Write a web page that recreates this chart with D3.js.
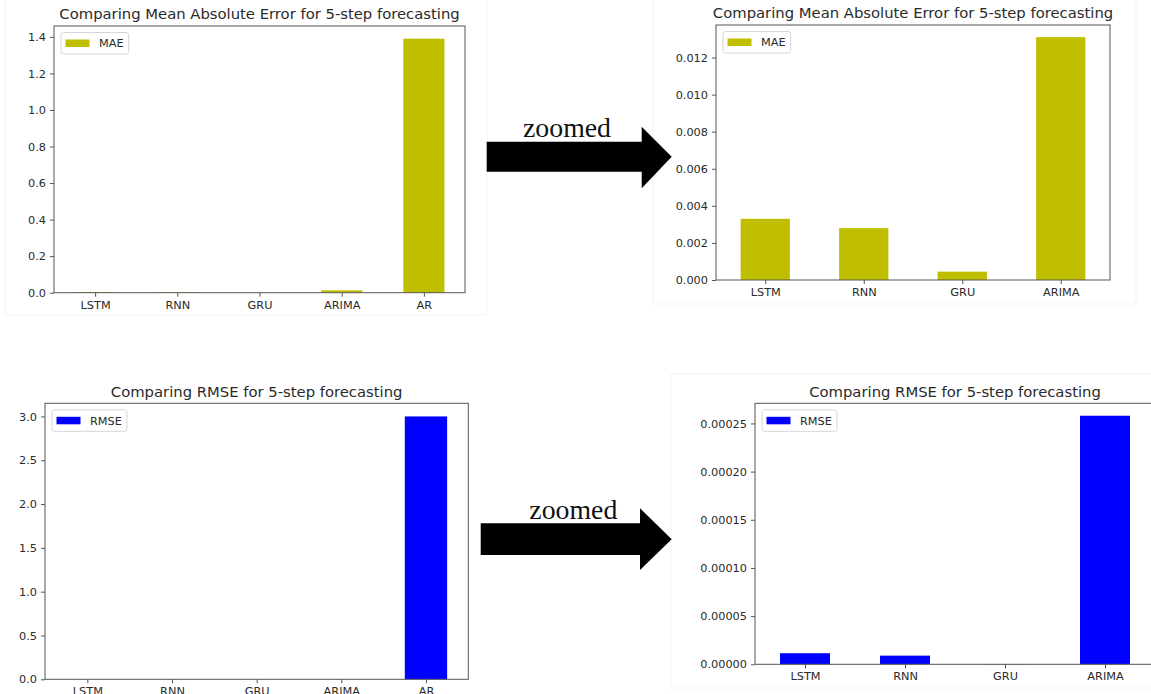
<!DOCTYPE html>
<html>
<head>
<meta charset="utf-8">
<script src="https://cdn.jsdelivr.net/npm/d3@7"></script>
<style>
  html, body { margin: 0; padding: 0; background: #ffffff; }
  svg { display: block; }
</style>
</head>
<body>
<svg id="chart" width="1151" height="694"></svg>
<script>
// ---------------- DATA ----------------
const categoriesAll = ["LSTM", "RNN", "GRU", "ARIMA", "AR"];
const categoriesZoomed = ["LSTM", "RNN", "GRU", "ARIMA"];
const maeValues = [0.0033, 0.0028, 0.00045, 0.0131, 1.39];
const rmseValues = [0.0000115, 0.000009, 0.0000002, 0.000258, 3.0];
const maeTitle = "Comparing Mean Absolute Error for 5-step forecasting";
const rmseTitle = "Comparing RMSE for 5-step forecasting";
const arrowLabel = "zoomed";

// ---------------- LAYOUT ----------------
const svg = d3.select("#chart");
const textColor = "#2a2a2a";
const frameColor = "#555555";
const font = "'DejaVu Sans', sans-serif";

// faint screenshot borders of the sub-images
const imageBoxes = [
  {x: 5, y: -2, w: 482, h: 317},
  {x: 653, y: -2, w: 483, h: 306},
  {x: 671, y: 374, w: 490, h: 314}
];
svg.selectAll("rect.imgbox").data(imageBoxes).enter().append("rect")
  .attr("x", d => d.x).attr("y", d => d.y).attr("width", d => d.w).attr("height", d => d.h)
  .attr("fill", "none").attr("stroke", "#f4f4f4").attr("stroke-width", 1);

const panels = [
  {cats: categoriesAll, vals: maeValues, label: "MAE", color: "#bfbf00", title: maeTitle,
   left: 54, right: 465, top: 26, bottom: 292.7, fmt: ".1f"},
  {cats: categoriesZoomed, vals: maeValues.slice(0, 4), label: "MAE", color: "#bfbf00", title: maeTitle,
   left: 716, right: 1110, top: 25, bottom: 280, fmt: ".3f"},
  {cats: categoriesAll, vals: rmseValues, label: "RMSE", color: "#0000ff", title: rmseTitle,
   left: 45, right: 468.3, top: 403.3, bottom: 679.3, fmt: ".1f"},
  {cats: categoriesZoomed, vals: rmseValues.slice(0, 4), label: "RMSE", color: "#0000ff", title: rmseTitle,
   left: 755, right: 1155, top: 403.3, bottom: 664.3, fmt: ".5f"}
];

panels.forEach(p => {
  const g = svg.append("g");
  const n = p.cats.length;
  const x = d3.scaleLinear().domain([-0.5, n - 0.5]).range([p.left, p.right]);
  const yMax = d3.max(p.vals) * 1.05;
  const y = d3.scaleLinear().domain([0, yMax]).range([p.bottom, p.top]);
  const unit = x(1) - x(0);
  const barW = unit * 0.5;

  // bars
  g.selectAll("rect.bar").data(p.vals).enter().append("rect")
    .attr("x", (d, i) => x(i) - barW / 2)
    .attr("y", d => y(d))
    .attr("width", barW)
    .attr("height", d => y(0) - y(d))
    .attr("fill", p.color);

  // y axis
  const yAxis = d3.axisLeft(y).ticks(6).tickFormat(d3.format(p.fmt)).tickSizeOuter(0).tickSize(4).tickPadding(4);
  const ya = g.append("g").attr("transform", `translate(${p.left},0)`).call(yAxis);
  ya.select(".domain").remove();
  ya.selectAll("line").attr("stroke", frameColor);
  ya.selectAll("text").attr("fill", textColor).style("font-family", font).style("font-size", "11.3px");

  // x axis
  const xAxis = d3.axisBottom(x).tickValues(d3.range(n)).tickFormat(i => p.cats[i]).tickSizeOuter(0).tickSize(4).tickPadding(4);
  const xa = g.append("g").attr("transform", `translate(0,${p.bottom})`).call(xAxis);
  xa.select(".domain").remove();
  xa.selectAll("line").attr("stroke", frameColor);
  xa.selectAll("text").attr("fill", textColor).style("font-family", font).style("font-size", "11.3px");

  // frame
  g.append("rect")
    .attr("x", p.left).attr("y", p.top)
    .attr("width", p.right - p.left).attr("height", p.bottom - p.top)
    .attr("fill", "none").attr("stroke", frameColor).attr("stroke-width", 1);

  // title
  g.append("text")
    .attr("x", (p.left + p.right) / 2).attr("y", p.top - 6.8)
    .attr("text-anchor", "middle")
    .attr("fill", textColor)
    .style("font-family", font).style("font-size", "14.8px")
    .text(p.title);

  // legend
  const lg = g.append("g").attr("transform", `translate(${p.left + 7},${p.top + 6.5})`);
  const box = lg.append("rect").attr("x", 0).attr("y", 0).attr("rx", 2.5).attr("ry", 2.5)
    .attr("height", 21.5).attr("fill", "#ffffff").attr("fill-opacity", 0.8)
    .attr("stroke", "#d6d6d6").attr("stroke-width", 1);
  lg.append("rect").attr("x", 4.5).attr("y", 7).attr("width", 24).attr("height", 7.5).attr("fill", p.color);
  const lt = lg.append("text").attr("x", 38).attr("y", 10.75).attr("dy", "0.35em")
    .attr("fill", textColor).style("font-family", font).style("font-size", "11.3px").text(p.label);
  box.attr("width", 38 + lt.node().getComputedTextLength() + 5);
});

// ---------------- ARROWS ----------------
const arrows = [
  {x0: 486.7, x1: 641.7, xt: 671.7, sy0: 141.7, sy1: 171.7, hy0: 126.7, hy1: 188.3, tx: 523, ty: 136.7},
  {x0: 480.7, x1: 640, xt: 671.7, sy0: 523.3, sy1: 555, hy0: 508.3, hy1: 570, tx: 529.3, ty: 519.3}
];
arrows.forEach(a => {
  const mid = (a.sy0 + a.sy1) / 2;
  const path = d3.path();
  path.moveTo(a.x0, a.sy0);
  path.lineTo(a.x1, a.sy0);
  path.lineTo(a.x1, a.hy0);
  path.lineTo(a.xt, mid);
  path.lineTo(a.x1, a.hy1);
  path.lineTo(a.x1, a.sy1);
  path.lineTo(a.x0, a.sy1);
  path.closePath();
  svg.append("path").attr("d", path.toString()).attr("fill", "#000000");
  svg.append("text").attr("x", a.tx).attr("y", a.ty)
    .attr("fill", "#111111")
    .style("font-family", "'Liberation Serif', 'Times New Roman', serif")
    .style("font-size", "27.8px")
    .text(arrowLabel);
});
</script>
</body>
</html>
